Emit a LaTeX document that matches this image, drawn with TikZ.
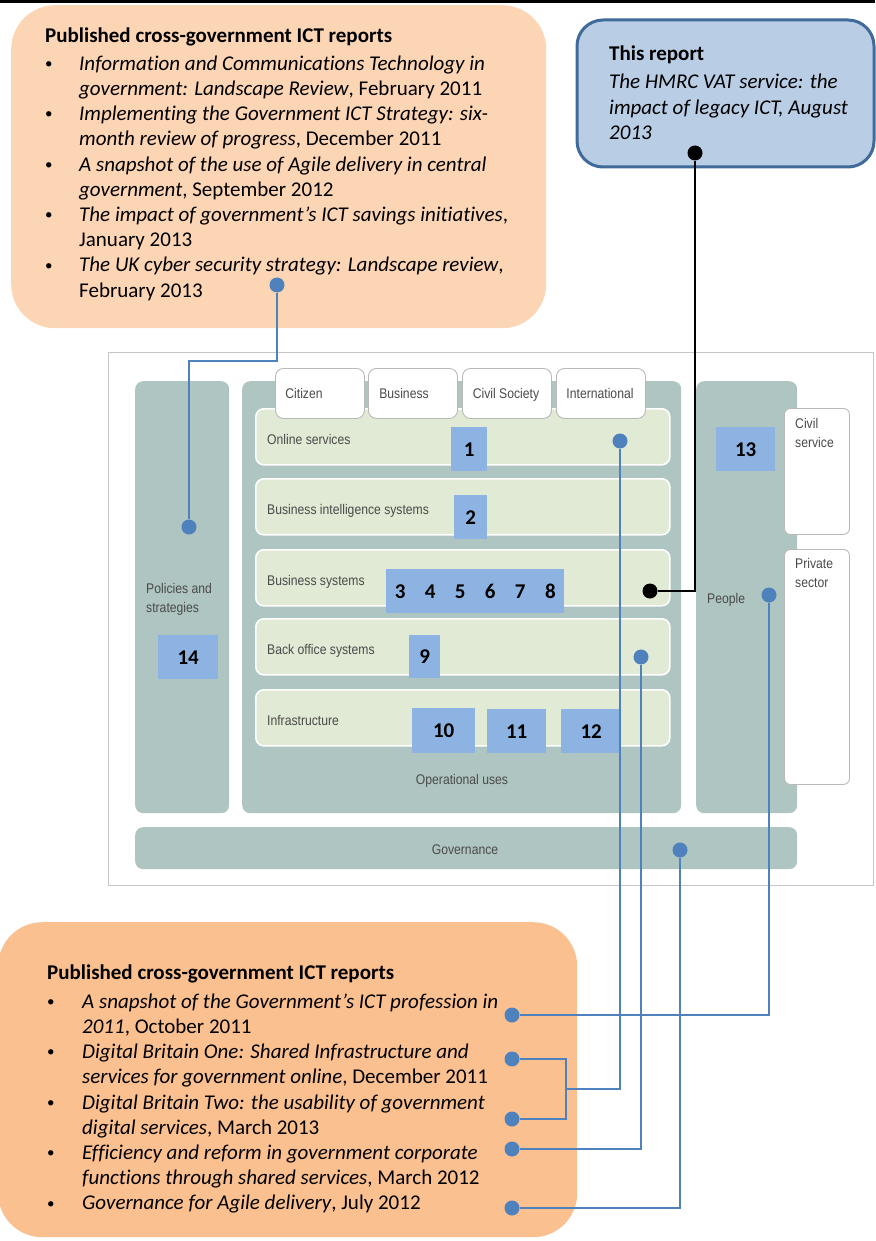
\documentclass[tikz,border=0pt]{standalone}
\usepackage{fontspec}
\setmainfont{Carlito}[Ligatures=NoCommon]
\newfontfamily\diagfont[FakeStretch=0.87]{Liberation Sans}
\usetikzlibrary{positioning}
\usetikzlibrary{calc}

\definecolor{peachlight}{HTML}{FCD5B5}
\definecolor{peachdark}{HTML}{FAC090}
\definecolor{reportblue}{HTML}{B9CDE5}
\definecolor{reportedge}{HTML}{3F6A99}
\definecolor{panelteal}{HTML}{AEC5C1}
\definecolor{rowgreen}{HTML}{E1EAD4}
\definecolor{numblue}{HTML}{8DB3E2}
\definecolor{linkblue}{HTML}{4F81BD}
\definecolor{labelgray}{HTML}{4A4A4A}

\newcommand{\bul}{\raisebox{1.8pt}{\fontsize{15}{15}\selectfont\textbullet}}

\tikzset{
  report/.style={rounded corners=44pt, anchor=north west, inner sep=0pt},
  listtext/.style={inner sep=0pt, font=\fontsize{21}{25.2}\selectfont},
  panel/.style={fill=panelteal, rounded corners=8pt, anchor=north west, inner sep=0pt},
  rowbox/.style={fill=rowgreen, draw=white, line width=1.6pt, rounded corners=8pt, anchor=north west, inner sep=0pt},
  tabbox/.style={fill=white, draw=gray!55, line width=0.9pt, rounded corners=8pt, anchor=north west, inner sep=0pt},
  numbox/.style={fill=numblue, anchor=north west, inner sep=0pt, font=\fontsize{21}{25}\selectfont\bfseries},
  diagtext/.style={inner sep=0pt, text=labelgray, font=\diagfont\fontsize{14}{18.5}\selectfont},
  bluedot/.style={circle, fill=linkblue, minimum size=15pt, inner sep=0pt},
  blackdot/.style={circle, fill=black, minimum size=15pt, inner sep=0pt},
  bluelink/.style={linkblue, line width=2.9pt},
  blacklink/.style={black, line width=2.3pt}
}

\begin{document}
\begin{tikzpicture}[x=1pt,y=-1pt]
  \useasboundingbox (0,0) rectangle (875,1241);

  % Linha do topo
  \draw[line width=3pt] (0,1.5) -- (875,1.5);

  % Relatorios publicados (em cima)
  \node[report, fill=peachlight, minimum width=535, minimum height=323] (pubtop) at (11,5) {};
  \node[listtext, below right=19.4pt and 34pt of pubtop.north west] (pubtoptext) {%
    \begin{tabular}{@{}p{34pt}@{}l@{}}
      \multicolumn{2}{@{}l@{}}{\textbf{Published cross-government ICT reports}}\\[2.8pt]
      \bul & \textit{Information and Communications Technology in}\\
           & \textit{government: Landscape Review}, February 2011\\
      \bul & \textit{Implementing the Government ICT Strategy: six-}\\
           & \textit{month review of progress}, December 2011\\
      \bul & \textit{A snapshot of the use of Agile delivery in central}\\
           & \textit{government}, September 2012\\
      \bul & \textit{The impact of government’s ICT savings initiatives},\\
           & January 2013\\
      \bul & \textit{The UK cyber security strategy: Landscape review},\\
           & February 2013
    \end{tabular}};

  % Este relatorio
  \node[report, rounded corners=26pt, fill=reportblue, draw=reportedge, line width=3pt,
        minimum width=297, minimum height=147] (thisrep) at (575.5,18.5) {};
  \node[listtext, below right=24.5pt and 33.5pt of thisrep.north west, align=left] (thisreptext) {%
    \begin{tabular}{@{}l@{}}
      \textbf{This report}\\[2.8pt]
      \textit{The HMRC VAT service: the}\\
      \textit{impact of legacy ICT, August}\\
      \textit{2013}
    \end{tabular}};

  % Quadro do modelo
  \draw[gray!45, line width=0.9pt] (108,352) rectangle (873,885);

  \node[panel, minimum width=94, minimum height=432] (pol) at (135,381) {};
  \node[panel, minimum width=439, minimum height=432] (ops) at (242,381) {};
  \node[panel, minimum width=101, minimum height=432] (people) at (696,381) {};
  \node[panel, minimum width=662, minimum height=42] (gov) at (135,827) {};

  % Camadas de uso operacional
  \foreach \y/\nome/\txt in {408/online/Online services, 478/bisys/Business intelligence systems,
      549/bussys/Business systems, 618/backoff/Back office systems, 689/infra/Infrastructure}
  {
    \node[rowbox, minimum width=414, minimum height=56] (\nome) at (255,\y) {};
    \node[diagtext, anchor=base west] (\nome-txt) at (267,\y+36) {\txt};
  }

  % Abas
  \foreach \x/\nome/\txt/\cx in {275/citizen/Citizen/304, 368/business/Business/404,
      462/civsoc/Civil Society/506, 556/intl/International/600}
  {
    \node[tabbox, minimum width=89, minimum height=50] (\nome) at (\x,368) {};
    \node[diagtext, anchor=base] (\nome-txt) at (\cx,398) {\txt};
  }

  % Pessoas
  \node[tabbox, rounded corners=6pt, minimum width=65, minimum height=126] (civserv) at (784,408) {};
  \node[tabbox, rounded corners=6pt, minimum width=65, minimum height=235] (private) at (784,549) {};
  \node[diagtext, anchor=base west, align=left] (civserv-txt) at (795,447) {Civil\\service};
  \node[diagtext, anchor=base west, align=left] (private-txt) at (795,587) {Private\\sector};
  \node[diagtext, anchor=base west] (people-txt) at (707,603) {People};
  \node[diagtext, anchor=base west, align=left] (pol-txt) at (146,612) {Policies and\\strategies};
  \node[diagtext, anchor=base] (ops-txt) at (462,784) {Operational uses};
  \node[diagtext, anchor=base] (gov-txt) at (465,854) {Governance};

  % Numeros
  \foreach \x/\y/\w/\h/\n in {451/427/36/44/1, 454/495/33/44/2, 409/635/31/43/9,
      412/708/63/45/10, 487/709/59/44/11, 561/709/60/44/12, 716/427/59/44/13, 158/635/60/44/14}
  {
    \node[numbox, minimum width=\w, minimum height=\h] (num\n) at (\x,\y) {\n};
  }
  \node[numbox, minimum width=178, minimum height=44] (num3to8) at (386,569)
    {3\hspace{19.4pt}4\hspace{19.4pt}5\hspace{19.4pt}6\hspace{19.4pt}7\hspace{19.4pt}8};

  % Relatorios publicados (em baixo)
  \node[report, fill=peachdark, minimum width=579, minimum height=315] (pubbot) at (-2,922) {};
  \node[listtext, below right=39.4pt and 49pt of pubbot.north west] (pubbottext) {%
    \begin{tabular}{@{}p{35pt}@{}l@{}}
      \multicolumn{2}{@{}l@{}}{\textbf{Published cross-government ICT reports}}\\[3.8pt]
      \bul & \textit{A snapshot of the Government’s ICT profession in}\\
           & \textit{2011}, October 2011\\
      \bul & \textit{Digital Britain One: Shared Infrastructure and}\\
           & \textit{services for government online}, December 2011\\
      \bul & \textit{Digital Britain Two: the usability of government}\\
           & \textit{digital services}, March 2013\\
      \bul & \textit{Efficiency and reform in government corporate}\\
           & \textit{functions through shared services}, March 2012\\
      \bul & \textit{Governance for Agile delivery}, July 2012
    \end{tabular}};

  % Pontos
  \node[bluedot] (dpub) at (277,285) {};
  \node[bluedot] (dpol) at (189,527) {};
  \node[bluedot] (donline) at (620,441) {};
  \node[bluedot] (dpeople) at (769,595) {};
  \node[bluedot] (dback) at (641,657) {};
  \node[bluedot] (dgov) at (680,850) {};
  \node[bluedot] (dsnap) at (512,1015) {};
  \node[bluedot] (ddbone) at (512,1059) {};
  \node[bluedot] (ddbtwo) at (512,1119) {};
  \node[bluedot] (deff) at (512,1149) {};
  \node[bluedot] (dagile) at (512,1208) {};
  \node[blackdot] (dthis) at (695,153) {};
  \node[blackdot] (dbussys) at (650,591) {};

  % Ligacoes
  \coordinate (kneepub) at (277,361);
  \coordinate (kneedb) at (566,1089);
  \draw[bluelink] (dpub) -- (kneepub) -| (dpol);
  \draw[bluelink] (donline) |- (kneedb);
  \draw[bluelink] (ddbone) -| (kneedb) |- (ddbtwo);
  \draw[bluelink] (dpeople) |- (dsnap);
  \draw[bluelink] (dback) |- (deff);
  \draw[bluelink] (dgov) |- (dagile);
  \draw[blacklink] (dthis) |- (dbussys);
\end{tikzpicture}
\end{document}
